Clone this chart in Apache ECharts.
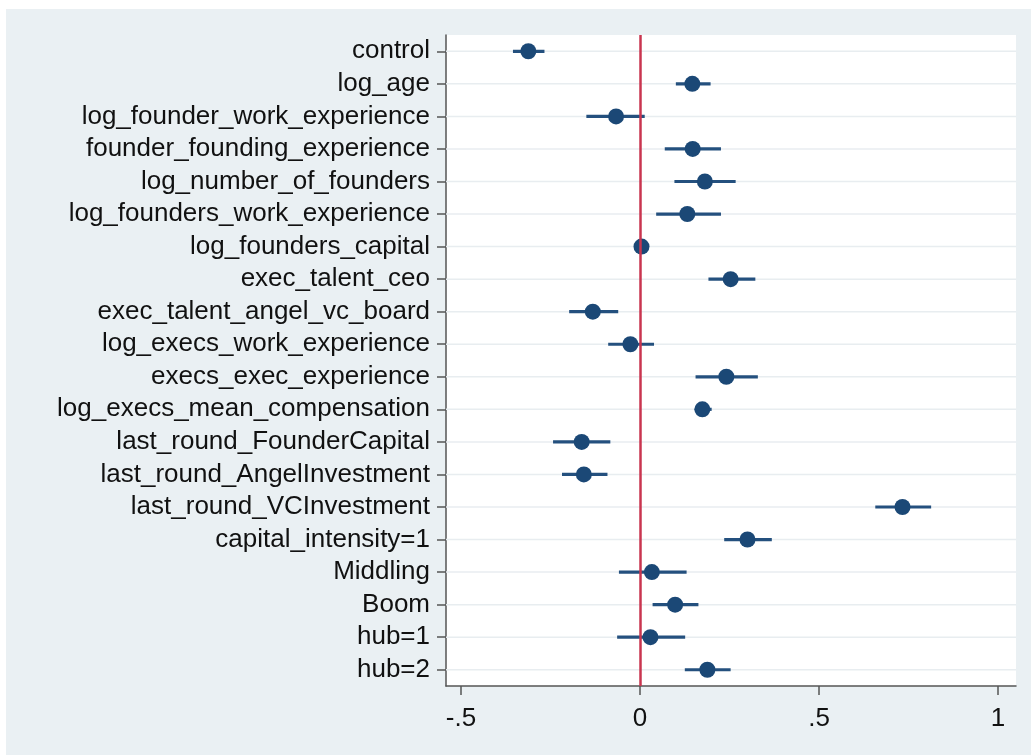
<!DOCTYPE html>
<html>
<head>
<meta charset="utf-8">
<script src="https://cdn.jsdelivr.net/npm/echarts@6/dist/echarts.min.js"></script>
<style>
html,body{margin:0;padding:0;background:#fff;}
#chart{width:1031px;height:755px;}
</style>
</head>
<body>
<div id="chart"></div>
<script>
const categories = ['control','log_age','log_founder_work_experience','founder_founding_experience','log_number_of_founders','log_founders_work_experience','log_founders_capital','exec_talent_ceo','exec_talent_angel_vc_board','log_execs_work_experience','execs_exec_experience','log_execs_mean_compensation','last_round_FounderCapital','last_round_AngelInvestment','last_round_VCInvestment','capital_intensity=1','Middling','Boom','hub=1','hub=2'];
const estimates = [-0.312,0.146,-0.067,0.147,0.181,0.132,0.004,0.253,-0.132,-0.027,0.241,0.174,-0.163,-0.157,0.733,0.300,0.033,0.098,0.029,0.188];
const lowerCI = [-0.355,0.100,-0.150,0.069,0.096,0.045,-0.004,0.191,-0.198,-0.089,0.155,0.153,-0.243,-0.218,0.657,0.235,-0.059,0.035,-0.064,0.125];
const upperCI = [-0.267,0.197,0.013,0.226,0.267,0.226,0.012,0.322,-0.061,0.039,0.329,0.200,-0.083,-0.091,0.813,0.368,0.130,0.163,0.126,0.253];
const xTickValues = [-0.5,0,0.5,1];
const xTickLabels = ['-.5','0','.5','1'];

const FONT = "'Liberation Sans', Arial, Helvetica, sans-serif";
const chart = echarts.init(document.getElementById('chart'));
const option = {
  animation: false,
  backgroundColor: 'transparent',
  graphic: [{type:'rect', z:-100, silent:true, shape:{x:6,y:9,width:1025,height:746}, style:{fill:'#eaf0f3'}}],
  grid: {left:446, right:15, top:35, bottom:69, show:true, backgroundColor:'#ffffff', borderWidth:0},
  xAxis: {
    type:'value', min:-0.542, max:1.05,
    axisLine:{show:true, onZero:false, lineStyle:{color:'#555', width:1.5}},
    axisTick:{show:true, length:9, customValues:xTickValues, lineStyle:{color:'#555', width:1.5}},
    axisLabel:{customValues:xTickValues, margin:20, fontSize:26, color:'#111', fontFamily:FONT,
      formatter:function(v){ const i = xTickValues.findIndex(t=>Math.abs(t-v)<1e-9); return i>=0?xTickLabels[i]:''; }},
    splitLine:{show:false}
  },
  yAxis: {
    type:'category', data:categories, inverse:true, boundaryGap:true,
    axisLine:{show:true, onZero:false, lineStyle:{color:'#555', width:1.5}},
    axisTick:{show:true, alignWithLabel:true, interval:0, length:9, lineStyle:{color:'#555', width:1.5}},
    axisLabel:{interval:0, margin:16, fontSize:26, color:'#111', fontFamily:FONT, hideOverlap:false, padding:[5,0,0,0]},
    splitLine:{show:false}
  },
  series: [
    {
      type:'custom', z:1, silent:true,
      data: categories.map((c,i)=>[0,i]),
      renderItem: function(params, api){
        const p = api.coord([0, api.value(1)]);
        const cs = params.coordSys;
        return {type:'line', shape:{x1:cs.x, y1:p[1], x2:cs.x+cs.width, y2:p[1]}, style:{stroke:'#e8edf0', lineWidth:1.5}};
      }
    },
    {
      type:'line', z:2, data:[], silent:true,
      markLine:{silent:true, symbol:'none', label:{show:false}, lineStyle:{color:'#c9354f', width:2.5, type:'solid'},
        data:[{xAxis:0}]}
    },
    {
      type:'custom', z:3, silent:true,
      data: categories.map((c,i)=>[lowerCI[i], upperCI[i], i]),
      renderItem: function(params, api){
        const a = api.coord([api.value(0), api.value(2)]);
        const b = api.coord([api.value(1), api.value(2)]);
        return {type:'line', shape:{x1:a[0], y1:a[1], x2:b[0], y2:b[1]}, style:{stroke:'#24507e', lineWidth:3.2}};
      }
    },
    {
      type:'scatter', z:4, silent:true, symbol:'circle', symbolSize:16,
      itemStyle:{color:'#1b4876', opacity:1},
      data: categories.map((c,i)=>[estimates[i], i])
    }
  ]
};
chart.setOption(option);
</script>
</body>
</html>
